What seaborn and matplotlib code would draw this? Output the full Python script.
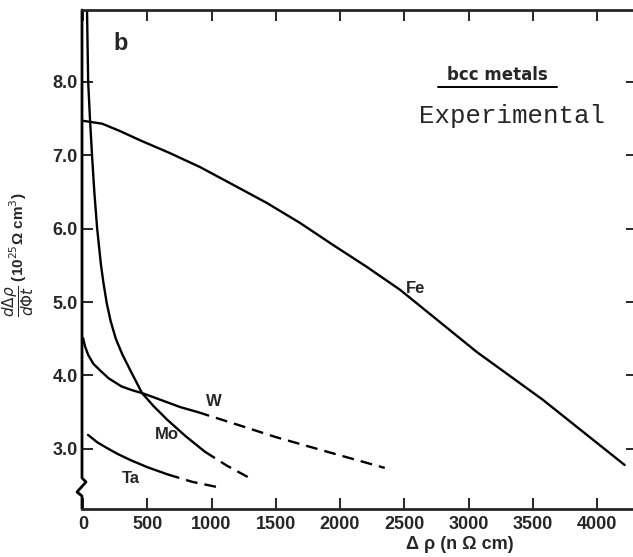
import matplotlib
matplotlib.use("Agg")
import matplotlib.pyplot as plt
import seaborn as sns
import pandas as pd

# Damage-rate curves for bcc metals: solid = measured, dashed = continuation
fe_x = [0, 150, 288, 450, 676, 910, 1166, 1431, 1687, 1944, 2208, 2465, 2543, 3064, 3577, 4215]
fe_y = [7.47, 7.43, 7.33, 7.20, 7.03, 6.84, 6.60, 6.35, 6.08, 5.78, 5.48, 5.17, 5.06, 4.32, 3.67, 2.78]

mo_solid_x = [31, 40, 54, 70, 88, 110, 140, 160, 185, 215, 255, 305, 365, 459, 550, 653, 800, 949]
mo_solid_y = [8.98, 8.0, 7.5, 7.0, 6.5, 6.0, 5.5, 5.25, 4.98, 4.74, 4.50, 4.29, 4.08, 3.76, 3.58, 3.40, 3.17, 2.96]
mo_dash_x = [949, 1120, 1299]
mo_dash_y = [2.96, 2.77, 2.60]

w_solid_x = [0, 15, 40, 80, 132, 200, 300, 380, 459, 600, 754, 894]
w_solid_y = [4.51, 4.40, 4.28, 4.16, 4.07, 3.96, 3.85, 3.80, 3.76, 3.67, 3.57, 3.50]
w_dash_x = [894, 1200, 1500, 1921, 2348]
w_dash_y = [3.50, 3.33, 3.16, 2.95, 2.74]

ta_solid_x = [39, 110, 187, 270, 365, 500, 661]
ta_solid_y = [3.19, 3.09, 3.01, 2.93, 2.85, 2.75, 2.65]
ta_dash_x = [661, 850, 1042]
ta_dash_y = [2.65, 2.55, 2.48]

x_ticks = [0, 500, 1000, 1500, 2000, 2500, 3000, 3500, 4000]
y_ticks = [3.0, 4.0, 5.0, 6.0, 7.0, 8.0]
y_tick_labels = ["3.0", "4.0", "5.0", "6.0", "7.0", "8.0"]

sns.set_style("ticks")
plt.rcParams["font.family"] = ["Liberation Sans", "DejaVu Sans"]
plt.rcParams["mathtext.fontset"] = "dejavusans"

fig = plt.figure(figsize=(6.33, 5.57), dpi=100)
ax = fig.add_axes([82 / 633, 1 - 509 / 557, 551 / 633, 499 / 557])

LW = 1.7
DASH = (0, (5, 3))

def curve(xs, ys, dashed=False):
    df = pd.DataFrame({"x": xs, "y": ys})
    sns.lineplot(data=df, x="x", y="y", ax=ax, color="black", lw=LW,
                 sort=False, estimator=None,
                 linestyle=DASH if dashed else "-")

curve(fe_x, fe_y)
curve(mo_solid_x, mo_solid_y)
curve(mo_dash_x, mo_dash_y, dashed=True)
curve(w_solid_x, w_solid_y)
curve(w_dash_x, w_dash_y, dashed=True)
curve(ta_solid_x, ta_solid_y)
curve(ta_dash_x, ta_dash_y, dashed=True)

ax.set_xlim(-8, 4280)
ax.set_ylim(2.18, 8.98)

ax.set_xticks(x_ticks)
ax.set_xticklabels([str(v) for v in x_ticks])
ax.set_yticks(y_ticks)
ax.set_yticklabels(y_tick_labels)

ax.tick_params(axis="x", direction="in", top=True, bottom=True, length=8,
               width=1.4, pad=5, labelsize=13)
ax.tick_params(axis="y", direction="in", left=True, right=False, length=8,
               width=1.4, pad=3, labelsize=13)
for lab in ax.get_xticklabels() + ax.get_yticklabels():
    lab.set_fontweight("bold")

# short inward ticks on the right-hand side
sec = ax.secondary_yaxis("right")
sec.set_yticks(y_ticks)
sec.tick_params(direction="in", length=5, width=1.4, labelright=False)
sec.spines["right"].set_visible(False)

for side in ["left", "right"]:
    ax.spines[side].set_visible(False)
for side in ["top", "bottom"]:
    ax.spines[side].set_linewidth(2.0)

# left axis line with a break mark near the bottom
W, H = 551.0, 499.0
bx = [0, 0, 4 / W, -5 / W, 0, 0]
by = [1, (509 - 478) / H, (509 - 482) / H, (509 - 492) / H, (509 - 496) / H, 0]
ax.plot(bx, by, transform=ax.transAxes, color="black", lw=2.0, clip_on=False)

ax.set_xlabel(r"Δ ρ (n Ω cm)", fontsize=13, fontweight="bold")
ax.xaxis.set_label_coords((460 - 82) / W, -(536 - 509) / H)
ax.set_ylabel("")
fig.text(18 / 633, 1 - 255 / 557,
         r"$\dfrac{d\Delta\rho}{d\Phi t}$ (10$^{25}$Ω cm$^3$)",
         rotation=90, fontsize=11, fontweight="bold", ha="center", va="center")

# curve labels
ax.text(2591, 5.18, "Fe", fontsize=12, fontweight="bold", ha="center", va="center")
ax.text(1019, 3.65, "W", fontsize=12, fontweight="bold", ha="center", va="center")
ax.text(654, 3.19, "Mo", fontsize=12, fontweight="bold", ha="center", va="center")
ax.text(374, 2.60, "Ta", fontsize=12, fontweight="bold", ha="center", va="center")
ax.text(296, 8.53, "b", fontsize=17, fontweight="bold", ha="center", va="center")

ax.text((497 - 82) / W, (509 - 75) / H, "bcc metals", transform=ax.transAxes,
        fontsize=12, fontweight="bold", family=["DejaVu Sans"],
        ha="center", va="center")
ax.plot([(438 - 82) / W, (557 - 82) / W], [(509 - 87) / H] * 2,
        transform=ax.transAxes, color="black", lw=1.4)
ax.text((512 - 82) / W, (509 - 123) / H, "Experimental", transform=ax.transAxes,
        fontsize=18.5, family=["Liberation Mono", "DejaVu Sans Mono"],
        ha="center", va="baseline")

fig.savefig("out.png", dpi=100)
